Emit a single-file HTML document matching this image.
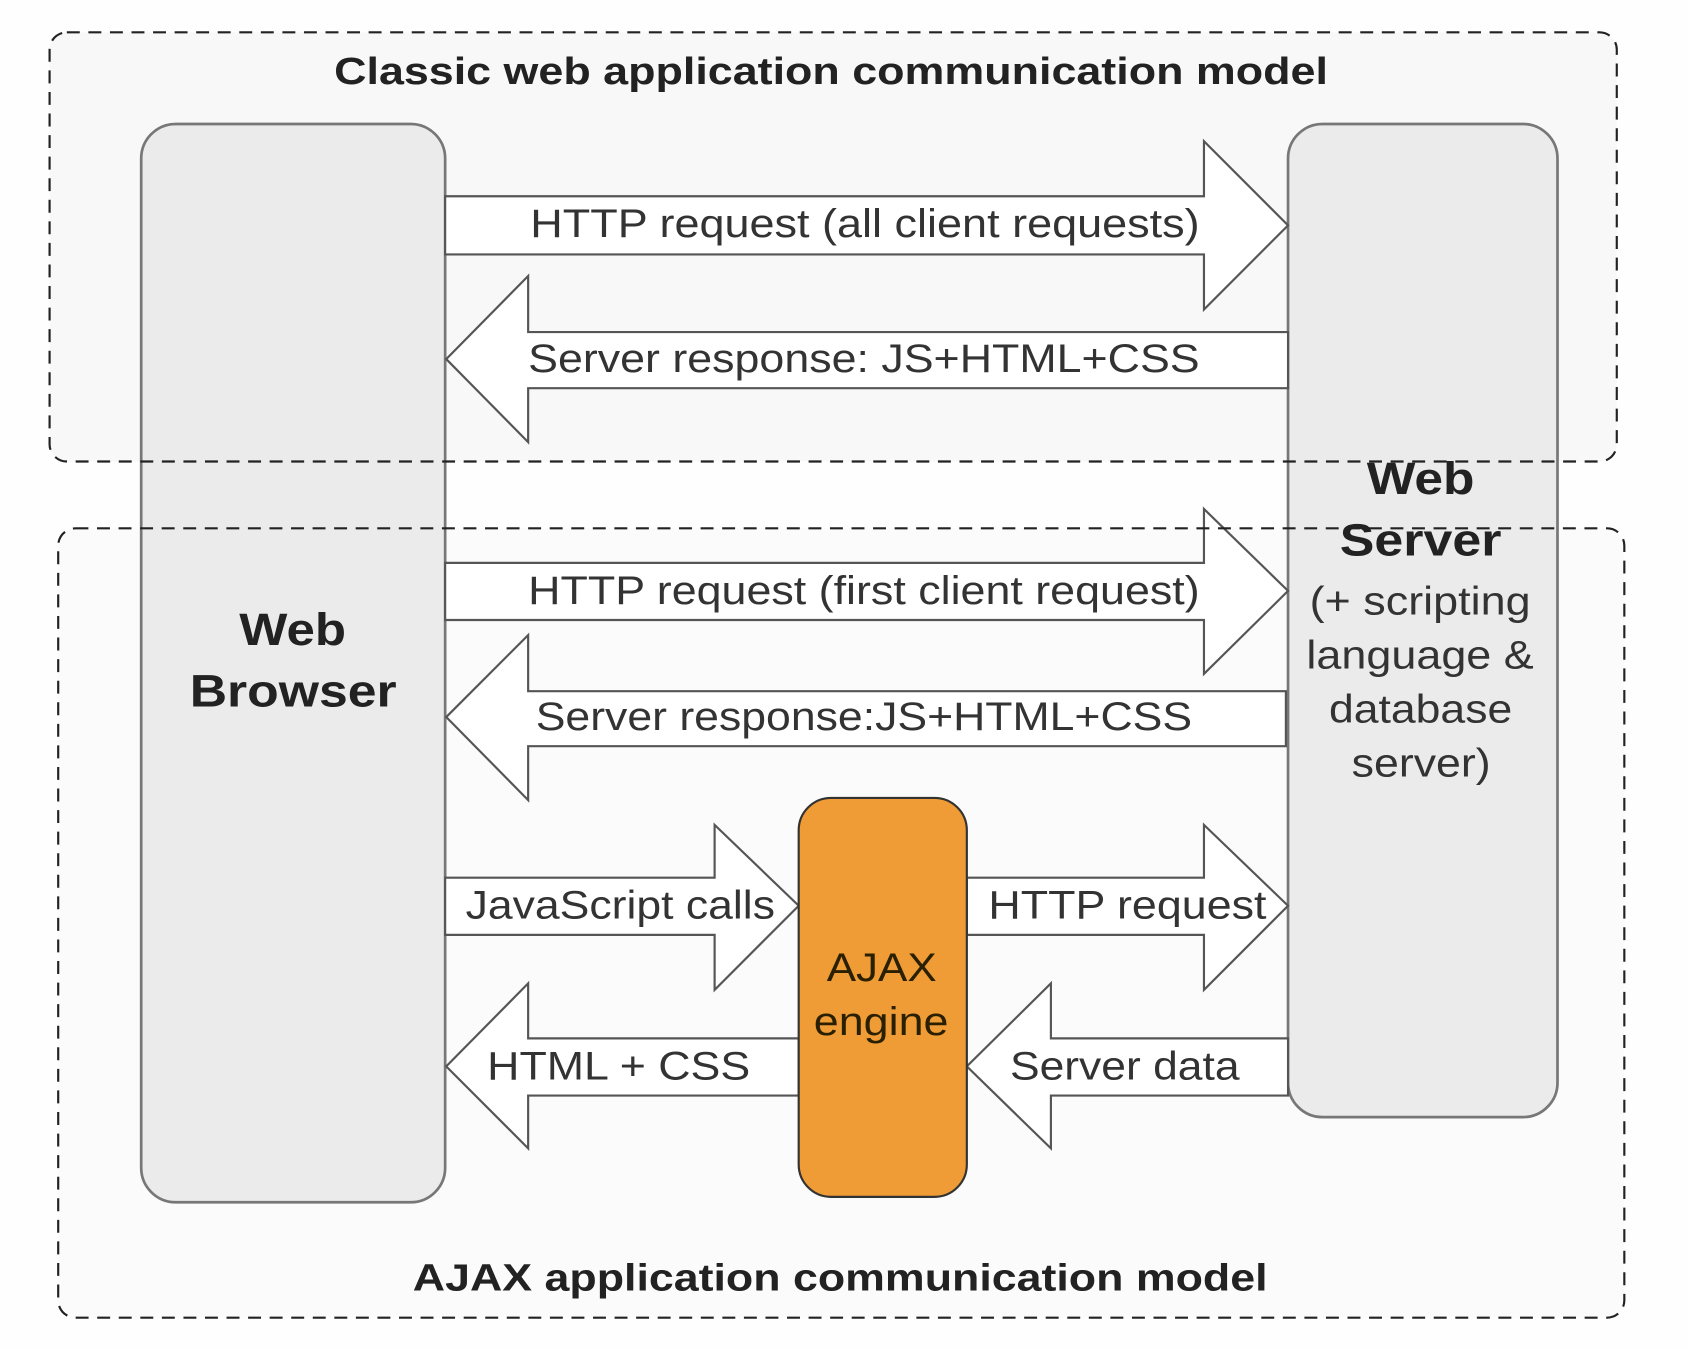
<!DOCTYPE html>
<html><head><meta charset="utf-8"><style>
html,body{margin:0;padding:0;background:#fff;}
svg{display:block;}
text{font-family:"Liberation Sans",Arial,sans-serif;}
</style></head><body>
<svg width="1689" height="1350" viewBox="0 0 1567 1252" preserveAspectRatio="none" xmlns="http://www.w3.org/2000/svg">
<rect x="0" y="0" width="1567" height="1252" fill="#fdfefd"/>
<rect x="46" y="30" width="1454" height="398" rx="16" fill="#f7f8f7"/>
<rect x="54" y="490" width="1453" height="732" rx="16" fill="#fafbfa"/>

<rect x="131" y="115" width="282" height="1000" rx="32" fill="#ebebeb" stroke="#777" stroke-width="2.5"/>
<rect x="1195" y="115" width="250" height="921" rx="32" fill="#ebebeb" stroke="#777" stroke-width="2.5"/>

<g fill="#fff" stroke="#555" stroke-width="2">
<polygon points="413,182 1117,182 1117,131 1195,209 1117,287 1117,236 413,236"/>
<polygon points="1195,308 490,308 490,256 414,333 490,410 490,360 1195,360"/>
<polygon points="413,522 1117,522 1117,472 1195,548 1117,625 1117,575 413,575"/>
<polygon points="1193,641 490,641 490,589 414,665 490,742 490,692 1193,692"/>
<polygon points="413,814 663,814 663,765 741,840 663,918 663,867 413,867"/>
<polygon points="897,814 1117,814 1117,765 1195,840 1117,918 1117,867 897,867"/>
<polygon points="741,963 490,963 490,912 414,989 490,1065 490,1016 741,1016"/>
<polygon points="1195,963 975,963 975,912 897,989 975,1065 975,1016 1195,1016"/>
</g>

<rect x="46" y="30" width="1454" height="398" rx="16" fill="none" stroke="#222" stroke-width="2" stroke-dasharray="12,8"/>
<rect x="54" y="490" width="1453" height="732" rx="16" fill="none" stroke="#222" stroke-width="2" stroke-dasharray="12,8"/>

<rect x="741" y="740" width="156" height="370" rx="30" fill="#ef9c36" stroke="#333" stroke-width="2"/>

<g font-size="35" font-weight="bold" fill="#222">
<text x="310" y="78" textLength="922" lengthAdjust="spacingAndGlyphs">Classic web application communication model</text>
<text x="383" y="1197" textLength="793" lengthAdjust="spacingAndGlyphs">AJAX application communication model</text>
</g>

<g font-size="37" fill="#333">
<text x="492" y="220" textLength="621" lengthAdjust="spacingAndGlyphs">HTTP request (all client requests)</text>
<text x="490" y="345" textLength="623" lengthAdjust="spacingAndGlyphs">Server response: JS+HTML+CSS</text>
<text x="490" y="560" textLength="623" lengthAdjust="spacingAndGlyphs">HTTP request (first client request)</text>
<text x="497" y="677" textLength="609" lengthAdjust="spacingAndGlyphs">Server response:JS+HTML+CSS</text>
<text x="432" y="852" textLength="287" lengthAdjust="spacingAndGlyphs">JavaScript calls</text>
<text x="917" y="852" textLength="258" lengthAdjust="spacingAndGlyphs">HTTP request</text>
<text x="452" y="1001" textLength="244" lengthAdjust="spacingAndGlyphs">HTML + CSS</text>
<text x="937" y="1001" textLength="213" lengthAdjust="spacingAndGlyphs">Server data</text>
<text x="1215" y="570" textLength="205" lengthAdjust="spacingAndGlyphs">(+ scripting</text>
<text x="1212" y="620" textLength="211" lengthAdjust="spacingAndGlyphs">language &amp;</text>
<text x="1233" y="670" textLength="170" lengthAdjust="spacingAndGlyphs">database</text>
<text x="1254" y="720" textLength="129" lengthAdjust="spacingAndGlyphs">server)</text>
</g>
<g font-size="37" fill="#2a2000">
<text x="767" y="910" textLength="102" lengthAdjust="spacingAndGlyphs">AJAX</text>
<text x="755" y="960" textLength="125" lengthAdjust="spacingAndGlyphs">engine</text>
</g>
<g font-size="42" font-weight="bold" fill="#222">
<text x="222" y="598" textLength="99" lengthAdjust="spacingAndGlyphs">Web</text>
<text x="176" y="655" textLength="192" lengthAdjust="spacingAndGlyphs">Browser</text>
<text x="1268" y="458" textLength="100" lengthAdjust="spacingAndGlyphs">Web</text>
<text x="1243" y="515" textLength="150" lengthAdjust="spacingAndGlyphs">Server</text>
</g>
</svg>
</body></html>
